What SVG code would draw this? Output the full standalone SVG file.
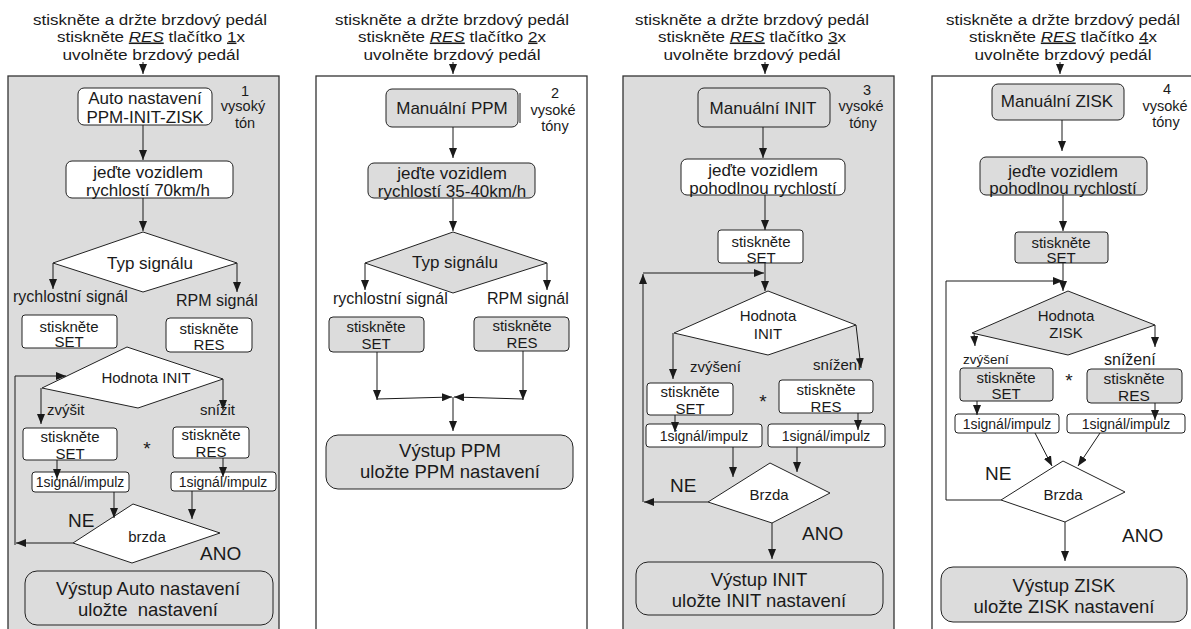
<svg xmlns="http://www.w3.org/2000/svg" width="1191" height="629" viewBox="0 0 1191 629">
<defs>
<marker id="ah" markerWidth="10" markerHeight="8" refX="10" refY="4" orient="auto" markerUnits="userSpaceOnUse"><path d="M0,0 L10,4 L0,8 z" fill="#1a1a1a"/></marker>
<style>
text{font-family:"Liberation Sans",Arial,sans-serif;fill:#1a1a1a;text-anchor:middle}
.st{text-anchor:start}
.h{font-size:15.5px}
.b{font-size:17px}
.m{font-size:15px}
.lb{font-size:16px}
.s{font-size:14px}
.l{font-size:18.5px}
.big{font-size:19px}
.tone{font-size:14.5px}
.u{text-decoration:underline}
.panel{stroke:#333;stroke-width:1.3}
.g{fill:#dcdcdc}
.w{fill:#ffffff}
.n{stroke:#222;stroke-width:1}
.c{fill:none;stroke:#1a1a1a;stroke-width:1;marker-end:url(#ah)}
.cl{fill:none;stroke:#1a1a1a;stroke-width:1}
</style>
</defs>
<rect width="1191" height="629" fill="#ffffff"/>

<!-- panels -->
<g id="panel1"><rect class="panel g" x="8" y="76" width="271" height="570"/></g>
<g id="panel2"><rect class="panel w" x="316" y="76" width="271" height="570"/></g>
<g id="panel3"><rect class="panel g" x="623" y="76" width="271" height="570"/></g>
<g id="panel4"><rect class="panel w" x="932" y="76" width="280" height="570"/></g>

<!-- headers -->
<g id="header1" class="h">
<text x="150" y="25" textLength="234" lengthAdjust="spacingAndGlyphs">stiskněte a držte brzdový pedál</text>
<text x="151" y="41.5" textLength="188" lengthAdjust="spacingAndGlyphs">stiskněte <tspan class="u" font-style="italic">RES</tspan> tlačítko <tspan class="u">1</tspan>x</text>
<text x="151" y="60" textLength="177" lengthAdjust="spacingAndGlyphs">uvolněte brzdový pedál</text>
</g>
<g id="header2" class="h">
<text x="452" y="25" textLength="234" lengthAdjust="spacingAndGlyphs">stiskněte a držte brzdový pedál</text>
<text x="452" y="41.5" textLength="188" lengthAdjust="spacingAndGlyphs">stiskněte <tspan class="u" font-style="italic">RES</tspan> tlačítko <tspan class="u">2</tspan>x</text>
<text x="452" y="60" textLength="177" lengthAdjust="spacingAndGlyphs">uvolněte brzdový pedál</text>
</g>
<g id="header3" class="h">
<text x="752" y="25" textLength="234" lengthAdjust="spacingAndGlyphs">stiskněte a držte brzdový pedál</text>
<text x="752" y="41.5" textLength="188" lengthAdjust="spacingAndGlyphs">stiskněte <tspan class="u" font-style="italic">RES</tspan> tlačítko <tspan class="u">3</tspan>x</text>
<text x="752" y="60" textLength="177" lengthAdjust="spacingAndGlyphs">uvolněte brzdový pedál</text>
</g>
<g id="header4" class="h">
<text x="1063" y="25" textLength="234" lengthAdjust="spacingAndGlyphs">stiskněte a držte brzdový pedál</text>
<text x="1063" y="41.5" textLength="188" lengthAdjust="spacingAndGlyphs">stiskněte <tspan class="u" font-style="italic">RES</tspan> tlačítko <tspan class="u">4</tspan>x</text>
<text x="1063" y="60" textLength="177" lengthAdjust="spacingAndGlyphs">uvolněte brzdový pedál</text>
</g>

<!-- tone labels -->
<g id="tone1" class="tone"><text x="245" y="96">1</text><text x="243" y="111">vysoký</text><text x="245" y="128">tón</text></g>
<g id="tone2" class="tone"><text x="555" y="98">2</text><text x="553" y="115">vysoké</text><text x="555" y="131">tóny</text></g>
<g id="tone3" class="tone"><text x="867" y="95">3</text><text x="861" y="111">vysoké</text><text x="863" y="128">tóny</text></g>
<g id="tone4" class="tone"><text x="1167" y="94">4</text><text x="1165" y="111">vysoké</text><text x="1166" y="127">tóny</text></g>

<!-- ===== Panel 1 nodes ===== -->
<g id="p1-auto"><rect class="n w" x="78" y="88" width="134" height="37" rx="6"/><text class="b" x="145" y="104">Auto nastavení</text><text class="b" x="145" y="123">PPM-INIT-ZISK</text></g>
<g id="p1-drive"><rect class="n w" x="66" y="161" width="167" height="37" rx="6"/><text class="b" x="148" y="178">jeďte vozidlem</text><text class="b" x="148" y="196">rychlostí 70km/h</text></g>
<g id="p1-typ"><polygon class="n w" points="143,232 237,263 143,292 53,263"/><text class="b" x="150" y="269" font-size="17.5">Typ signálu</text></g>
<g id="p1-lbl"><text class="lb st" x="13" y="302">rychlostní signál</text><text class="lb st" x="176" y="306">RPM signál</text></g>
<g id="p1-set1"><rect class="n w" x="22" y="315" width="95" height="33" rx="3"/><text class="m" x="69" y="332">stiskněte</text><text class="m" x="69" y="347">SET</text></g>
<g id="p1-res1"><rect class="n w" x="166" y="318" width="86" height="34" rx="4"/><text class="m" x="209" y="334">stiskněte</text><text class="m" x="209" y="350">RES</text></g>
<g id="p1-hod"><polygon class="n w" points="127,347 223,379 138,408 42,388"/><text class="m" x="146" y="383">Hodnota INIT</text></g>
<g id="p1-lbl2"><text class="m st" x="47" y="415">zvýšit</text><text class="m st" x="200" y="415">snížit</text></g>
<g id="p1-set2"><rect class="n w" x="23" y="428" width="94" height="32" rx="3"/><text class="m" x="70" y="442">stiskněte</text><text class="m" x="70" y="459">SET</text></g>
<g id="p1-star"><text class="big" x="147" y="455">*</text></g>
<g id="p1-res2"><rect class="n w" x="173" y="427" width="76" height="31" rx="3"/><text class="m" x="211" y="440">stiskněte</text><text class="m" x="211" y="457">RES</text></g>
<g id="p1-imp1"><rect class="n w" x="32" y="472" width="97" height="20" rx="3"/><text class="s" x="80" y="487">1signál/impulz</text></g>
<g id="p1-imp2"><rect class="n w" x="171" y="472" width="105" height="19" rx="3"/><text class="s" x="223" y="487">1signál/impulz</text></g>
<g id="p1-brzda"><polygon class="n w" points="133,504 220,533 132,563 73,543"/><text class="m" x="147" y="542">brzda</text></g>
<g id="p1-lbl3"><text class="big st" x="68" y="527">NE</text><text class="big st" x="200" y="560">ANO</text></g>
<g id="p1-out"><rect class="n g" x="25" y="571" width="248" height="54" rx="12"/><text class="l" x="148" y="595">Výstup Auto nastavení</text><text class="l" x="148" y="616" xml:space="preserve">uložte  nastavení</text></g>

<!-- ===== Panel 2 nodes ===== -->
<g id="p2-man"><rect class="n g" x="386" y="89" width="132" height="38" rx="6"/><line class="cl" x1="520" y1="93" x2="520" y2="123"/><text class="b" x="452" y="114">Manuální PPM</text></g>
<g id="p2-drive"><rect class="n g" x="368" y="163" width="167" height="35" rx="6"/><text class="b" x="452" y="179">jeďte vozidlem</text><text class="b" x="452" y="197">rychlostí 35-40km/h</text></g>
<g id="p2-typ"><polygon class="n g" points="453,232 547,263 453,293 365,263"/><text class="b" x="455" y="268" font-size="17.5">Typ signálu</text></g>
<g id="p2-lbl"><text class="lb st" x="333" y="304">rychlostní signál</text><text class="lb st" x="487" y="304">RPM signál</text></g>
<g id="p2-set"><rect class="n g" x="329" y="317" width="95" height="35" rx="4"/><text class="m" x="376" y="332">stiskněte</text><text class="m" x="376" y="349">SET</text></g>
<g id="p2-res"><rect class="n g" x="474" y="317" width="95" height="34" rx="4"/><text class="m" x="522" y="331">stiskněte</text><text class="m" x="522" y="348">RES</text></g>
<g id="p2-out"><rect class="n g" x="326" y="435" width="247" height="54" rx="12"/><text class="l" x="450" y="457">Výstup PPM</text><text class="l" x="450" y="478">uložte PPM nastavení</text></g>

<!-- ===== Panel 3 nodes ===== -->
<g id="p3-man"><rect class="n g" x="698" y="88" width="132" height="39" rx="6"/><text class="b" x="763" y="114">Manuální INIT</text></g>
<g id="p3-drive"><rect class="n w" x="681" y="159" width="164" height="36" rx="6"/><text class="b" x="763" y="176">jeďte vozidlem</text><text class="b" x="763" y="194">pohodlnou rychlostí</text></g>
<g id="p3-set0"><rect class="n w" x="718" y="230" width="85" height="33" rx="3"/><text class="m" x="761" y="247">stiskněte</text><text class="m" x="761" y="263">SET</text></g>
<g id="p3-hod"><polygon class="n w" points="768,291 856,325 768,355 674,333"/><text class="m" x="768" y="321">Hodnota</text><text class="m" x="768" y="339">INIT</text></g>
<g id="p3-lbl"><text class="m st" x="690" y="372">zvýšení</text><text class="m st" x="813" y="370">snížení</text></g>
<g id="p3-set"><rect class="n w" x="647" y="383" width="86" height="32" rx="3"/><text class="m" x="690" y="397">stiskněte</text><text class="m" x="690" y="414">SET</text></g>
<g id="p3-star"><text class="big" x="763" y="408">*</text></g>
<g id="p3-res"><rect class="n w" x="779" y="380" width="94" height="33" rx="3"/><text class="m" x="826" y="395">stiskněte</text><text class="m" x="826" y="412">RES</text></g>
<g id="p3-imp1"><rect class="n w" x="646" y="424" width="116" height="23" rx="3"/><text class="s" x="704" y="441">1signál/impulz</text></g>
<g id="p3-imp2"><rect class="n w" x="768" y="424" width="117" height="23" rx="3"/><text class="s" x="826" y="441">1signál/impulz</text></g>
<g id="p3-brzda"><polygon class="n w" points="770,463 830,493 772,523 708,502"/><text class="m" x="769" y="500">Brzda</text></g>
<g id="p3-lbl2"><text class="big st" x="670" y="492">NE</text><text class="big st" x="802" y="540">ANO</text></g>
<g id="p3-out"><rect class="n g" x="636" y="562" width="247" height="53" rx="12"/><text class="l" x="759" y="586">Výstup INIT</text><text class="l" x="759" y="607">uložte INIT nastavení</text></g>

<!-- ===== Panel 4 nodes ===== -->
<g id="p4-man"><rect class="n g" x="992" y="84" width="132" height="36" rx="6"/><text class="b" x="1057" y="107">Manuální ZISK</text></g>
<g id="p4-drive"><rect class="n g" x="980" y="157" width="167" height="38" rx="6"/><text class="b" x="1063" y="177">jeďte vozidlem</text><text class="b" x="1063" y="194">pohodlnou rychlostí</text></g>
<g id="p4-set0"><rect class="n g" x="1015" y="232" width="93" height="31" rx="3"/><text class="m" x="1061" y="248">stiskněte</text><text class="m" x="1061" y="263">SET</text></g>
<g id="p4-hod"><polygon class="n g" points="1068,291 1155,325 1068,355 972,333"/><text class="m" x="1066" y="321">Hodnota</text><text class="m" x="1066" y="338">ZISK</text></g>
<g id="p4-lbl"><text class="st" x="963" y="364" font-size="13.5">zvýšení</text><text class="lb st" x="1104" y="365">snížení</text></g>
<g id="p4-set"><rect class="n g" x="960" y="368" width="93" height="33" rx="3"/><text class="m" x="1006" y="383">stiskněte</text><text class="m" x="1006" y="399">SET</text></g>
<g id="p4-star"><text class="big" x="1069" y="387">*</text></g>
<g id="p4-res"><rect class="n g" x="1087" y="369" width="95" height="34" rx="4"/><text x="1134" y="384" font-size="15.5">stiskněte</text><text x="1134" y="401" font-size="15.5">RES</text></g>
<g id="p4-imp1"><rect class="n w" x="955" y="414" width="104" height="19" rx="3"/><text class="s" x="1007" y="429">1signál/impulz</text></g>
<g id="p4-imp2"><rect class="n w" x="1067" y="414" width="118" height="19" rx="3"/><text class="s" x="1126" y="429">1signál/impulz</text></g>
<g id="p4-brzda"><polygon class="n w" points="1063,461 1125,492 1065,522 1001,500"/><text class="m" x="1063" y="500">Brzda</text></g>
<g id="p4-lbl2"><text class="big st" x="985" y="480">NE</text><text class="big st" x="1122" y="542">ANO</text></g>
<g id="p4-out"><rect class="n g" x="941" y="567" width="246" height="55" rx="12"/><text class="l" x="1064" y="592">Výstup ZISK</text><text class="l" x="1064" y="613">uložte ZISK nastavení</text></g>

<!-- connectors -->
<g id="connectors">
<!-- panel 1 -->
<path class="c" d="M143,62 L143,74"/>
<path class="c" d="M143,125 L143,160"/>
<path class="c" d="M143,198 L143,231"/>
<path class="c" d="M53,263 L53,289"/>
<path class="c" d="M237,263 L237,292"/>
<path class="c" d="M73,543 L16,543"/>
<path class="c" d="M15,545 L15,376 L66,376"/>
<path class="c" d="M41,388 L41,424"/>
<path class="c" d="M223,379 L223,410"/>
<path class="c" d="M57,460 L57,479"/>
<path class="c" d="M223,458 L223,477"/>
<path class="c" d="M114,492 L114,518"/>
<path class="c" d="M192,491 L192,519"/>
<!-- panel 2 -->
<path class="c" d="M453,62 L453,74"/>
<path class="c" d="M453,127 L453,158"/>
<path class="c" d="M453,198 L453,231"/>
<path class="c" d="M365,263 L365,290"/>
<path class="c" d="M547,263 L547,290"/>
<path class="c" d="M377,352 L377,400"/>
<path class="c" d="M377,399 L452,397"/>
<path class="c" d="M523,351 L523,400"/>
<path class="c" d="M523,399 L454,397"/>
<path class="c" d="M453,397 L453,431"/>
<!-- panel 3 -->
<path class="c" d="M765,62 L765,74"/>
<path class="c" d="M763,127 L763,158"/>
<path class="c" d="M765,195 L765,230"/>
<path class="c" d="M765,263 L765,291"/>
<path class="c" d="M708,502 L644,502"/>
<path class="c" d="M643,502 L643,274"/>
<path class="c" d="M643,273 L764,273"/>
<path class="c" d="M673,333 L673,379"/>
<path class="c" d="M856,325 L861,368"/>
<path class="c" d="M675,415 L675,432"/>
<path class="c" d="M858,413 L858,430"/>
<path class="c" d="M733,447 L733,477"/>
<path class="c" d="M797,447 L797,472"/>
<path class="c" d="M772,523 L772,559"/>
<!-- panel 4 -->
<path class="c" d="M1060,62 L1060,74"/>
<path class="c" d="M1062,120 L1062,151"/>
<path class="c" d="M1063,195 L1063,231"/>
<path class="c" d="M1063,263 L1063,291"/>
<path class="c" d="M1001,500 L946,500 L946,281 L1063,281"/>
<path class="c" d="M974,333 L975,346"/>
<path class="c" d="M1155,325 L1155,347"/>
<path class="c" d="M977,401 L977,415"/>
<path class="c" d="M1155,403 L1155,420"/>
<path class="c" d="M1035,433 L1052,466"/>
<path class="c" d="M1100,433 L1078,466"/>
<path class="c" d="M1065,522 L1065,561"/>
</g>
</svg>
